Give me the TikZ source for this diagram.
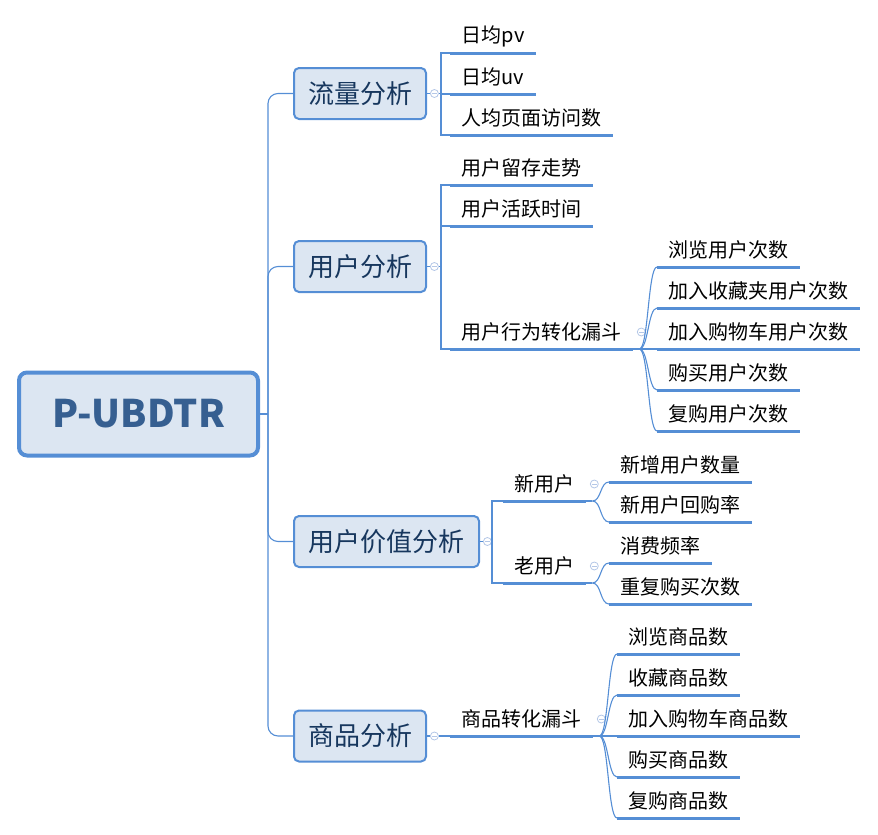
\documentclass[tikz,border=0pt]{standalone}
\usepackage{fontspec}
\setmainfont{Noto Sans CJK SC}
\usetikzlibrary{calc}
\definecolor{lineblue}{RGB}{85,142,213}
\definecolor{boxfill}{RGB}{220,230,242}
\definecolor{roottext}{RGB}{54,95,145}
\definecolor{l1text}{RGB}{23,55,94}
\definecolor{markcol}{RGB}{180,199,231}
\tikzset{
  rootbox/.style={draw=lineblue, line width=4pt, fill=boxfill, rounded corners=8pt,
    minimum width=239pt, minimum height=83pt, inner sep=0pt,
    font=\fontsize{38}{40}\selectfont\bfseries, text=roottext},
  l1box/.style={draw=lineblue, line width=2pt, fill=boxfill, rounded corners=5pt,
    minimum height=51pt, inner xsep=14pt, inner ysep=0pt,
    font=\fontsize{26}{30}\selectfont, text=l1text},
  leaf/.style={anchor=west, inner xsep=11.5pt, inner ysep=2pt,
    font=\fontsize{20}{24}\selectfont, text=black},
  uline/.style={draw=lineblue, line width=3pt},
  conn/.style={draw=lineblue, line width=1.1pt},
  collapse/.style={circle, draw=markcol, line width=0.8pt, minimum size=8pt, inner sep=0pt,
    anchor=west, fill=white,
    path picture={\draw[markcol, line width=0.7pt]
      ([xshift=-2.2pt]path picture bounding box.center) --
      ([xshift=2.2pt]path picture bounding box.center);}},
}
% \leaf{name}{x0}{yu}{text}
\newcommand{\leafnode}[4]{%
  \coordinate (#1-s) at (#2,#3);
  \node[leaf] (#1) at (#2,#3-17) {#4};
  \coordinate (#1-e) at (#1.east |- #1-s);
  \draw[uline] (#1-s) -- (#1-e);
}
% S-curve from branch point to child start
\newcommand{\scurve}[2]{%
  \draw[conn] (#1) .. controls ($(#1)+(9,0)$) and ($(#2)+(-9,0)$) .. (#2);
}
\begin{document}
\begin{tikzpicture}[x=1pt, y=-1pt]
\useasboundingbox (0,0) rectangle (878,835);

% root
\node[rootbox] (root) at (138.5,414) {P-UBDTR};
\coordinate (trunk) at (268,414);
\draw[conn] (root.east) -- (trunk);

% level 1
\node[l1box, minimum width=132pt] (ll) at (360,93.5) {流量分析};
\node[l1box, minimum width=132pt] (yh) at (360,266.5) {用户分析};
\node[l1box, minimum width=185pt] (jz) at (386.5,541.5) {用户价值分析};
\node[l1box, minimum width=132pt] (sp) at (360,736) {商品分析};

\foreach \n in {ll,yh,jz,sp}{
  \draw[conn, rounded corners=10pt] (trunk) |- (\n.west);
}

% collapse markers on level 1
\node[collapse, xshift=3pt] (cll) at (ll.east) {};
\node[collapse, xshift=3pt] (cyh) at (yh.east) {};
\node[collapse, xshift=3pt] (cjz) at (jz.east) {};
\node[collapse, xshift=3pt] (csp) at (sp.east) {};
\draw[conn] (ll.east) -- (cll.west);
\draw[conn] (yh.east) -- (cyh.west);
\draw[conn] (jz.east) -- (cjz.west);
\draw[conn] (sp.east) -- (csp.west);

% ---- 流量分析
\leafnode{pv}{450}{53}{日均pv}
\leafnode{uv}{450}{94}{日均uv}
\leafnode{rj}{450}{135}{人均页面访问数}
\coordinate (bll) at (441,93.5);
\draw[conn] (cll.east) -- (bll);
\foreach \c in {pv,uv,rj}{ \draw[conn] (bll) |- (\c-s); }

% ---- 用户分析
\leafnode{lc}{450}{185}{用户留存走势}
\leafnode{hy}{450}{226}{用户活跃时间}
\leafnode{xw}{450}{349}{用户行为转化漏斗}
\coordinate (byh) at (441,266.5);
\draw[conn] (cyh.east) -- (byh);
\foreach \c in {lc,hy,xw}{ \draw[conn] (byh) |- (\c-s); }

\node[collapse, xshift=3.5pt] (cxw) at (xw.east) {};
\leafnode{ll1}{657}{267}{浏览用户次数}
\leafnode{ll2}{657}{308}{加入收藏夹用户次数}
\leafnode{ll3}{657}{349}{加入购物车用户次数}
\leafnode{ll4}{657}{390}{购买用户次数}
\leafnode{ll5}{657}{431}{复购用户次数}
\coordinate (bxw) at ($(xw-e)+(6,0)$);
\draw[conn] (xw-e) -- (ll3-s);
\scurve{bxw}{ll1-s}
\scurve{bxw}{ll2-s}
\scurve{bxw}{ll4-s}
\scurve{bxw}{ll5-s}

% ---- 用户价值分析
\leafnode{xyh}{503}{501}{新用户}
\leafnode{lyh}{503}{583}{老用户}
\coordinate (bjz) at (492,541.5);
\draw[conn] (cjz.east) -- (bjz);
\foreach \c in {xyh,lyh}{ \draw[conn] (bjz) |- (\c-s); }
\node[collapse, xshift=3.5pt] (cxyh) at (xyh.east) {};
\node[collapse, xshift=3.5pt] (clyh) at (lyh.east) {};

\leafnode{x1}{609}{482}{新增用户数量}
\leafnode{x2}{609}{522}{新用户回购率}
\leafnode{o1}{609}{563}{消费频率}
\leafnode{o2}{609}{604}{重复购买次数}
\coordinate (bxyh) at ($(xyh-e)+(6,0)$);
\coordinate (blyh) at ($(lyh-e)+(6,0)$);
\draw[conn] (xyh-e) -- (bxyh);
\draw[conn] (lyh-e) -- (blyh);
\scurve{bxyh}{x1-s}
\scurve{bxyh}{x2-s}
\scurve{blyh}{o1-s}
\scurve{blyh}{o2-s}

% ---- 商品分析
\leafnode{zh}{450}{736}{商品转化漏斗}
\draw[conn] (csp.east) -- (zh-s);
\node[collapse, xshift=3.5pt] (czh) at (zh.east) {};
\leafnode{s1}{617}{654}{浏览商品数}
\leafnode{s2}{617}{695}{收藏商品数}
\leafnode{s3}{617}{736}{加入购物车商品数}
\leafnode{s4}{617}{777}{购买商品数}
\leafnode{s5}{617}{818}{复购商品数}
\coordinate (bzh) at ($(zh-e)+(6,0)$);
\draw[conn] (zh-e) -- (s3-s);
\scurve{bzh}{s1-s}
\scurve{bzh}{s2-s}
\scurve{bzh}{s4-s}
\scurve{bzh}{s5-s}
\end{tikzpicture}
\end{document}
